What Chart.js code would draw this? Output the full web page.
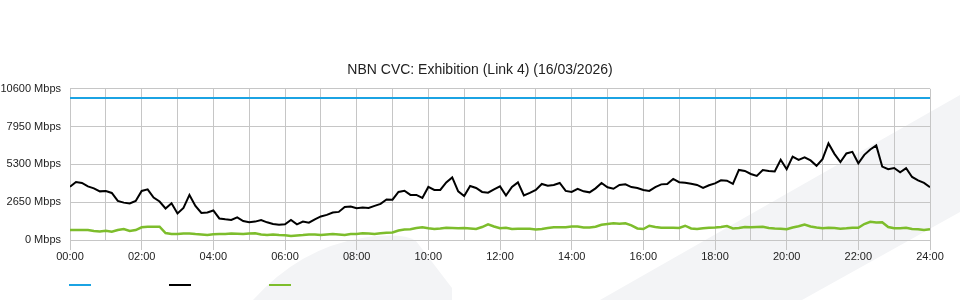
<!DOCTYPE html>
<html>
<head>
<meta charset="utf-8">
<script src="https://cdn.jsdelivr.net/npm/chart.js@4.4.1/dist/chart.umd.min.js"></script>
<style>
  html, body { margin: 0; padding: 0; background: #fff; }
</style>
</head>
<body>
<canvas id="graficoLink" width="960" height="300"></canvas>
<script>
const chartTitle = "NBN CVC: Exhibition (Link 4) (16/03/2026)";

// one sample every 10 minutes, 00:00 -> 24:00
const sampleMinutes = 10;
const hourLabels = ["00:00", "02:00", "04:00", "06:00", "08:00", "10:00", "12:00",
  "14:00", "16:00", "18:00", "20:00", "22:00", "24:00"];
const yTickLabels = ["0 Mbps", "2650 Mbps", "5300 Mbps", "7950 Mbps", "10600 Mbps"];

const capacityMbps = 9960;

const trafficMbps = [
  3740, 4070, 4000, 3760, 3620, 3410, 3440, 3300, 2740, 2620,
  2560, 2740, 3440, 3550, 2980, 2700, 2210, 2580, 1860, 2250,
  3160, 2390, 1900, 1930, 2070, 1510, 1450, 1400, 1590, 1330,
  1250, 1290, 1400, 1240, 1120, 1070, 1100, 1400, 1100, 1290,
  1210, 1450, 1650, 1760, 1930, 1970, 2320, 2350, 2230, 2270,
  2250, 2390, 2530, 2840, 2830, 3370, 3450, 3160, 3160, 2950,
  3720, 3510, 3510, 4040, 4390, 3410, 3090, 3790, 3650, 3370,
  3320, 3550, 3760, 3120, 3720, 4040, 3120, 3300, 3510, 3930,
  3810, 3860, 4000, 3440, 3370, 3590, 3410, 3340, 3620, 4000,
  3700, 3590, 3860, 3900, 3710, 3650, 3510, 3440, 3700, 3900,
  3930, 4280, 4050, 4020, 3950, 3860, 3650, 3840, 3970, 4180,
  4160, 3930, 4910, 4840, 4630, 4490, 4910, 4840, 4810, 5620,
  4960, 5850, 5620, 5790, 5580, 5200, 5670, 6770, 6040, 5460,
  6070, 6180, 5380, 5970, 6350, 6630, 5150, 4960, 5050, 4740,
  5030, 4420, 4180, 4000, 3700
];

const secondaryMbps = [
  700, 700, 700, 700, 630, 600, 650, 580, 700, 770,
  630, 700, 890, 930, 930, 930, 490, 420, 420, 460,
  460, 420, 390, 350, 400, 420, 420, 460, 440, 420,
  460, 470, 390, 350, 390, 350, 330, 280, 320, 350,
  390, 380, 350, 390, 420, 390, 350, 420, 420, 470,
  460, 420, 470, 510, 530, 670, 740, 750, 840, 890,
  820, 770, 810, 860, 840, 820, 840, 810, 770, 910,
  1100, 950, 820, 860, 770, 790, 790, 790, 740, 770,
  840, 890, 890, 890, 950, 950, 880, 880, 930, 1070,
  1120, 1170, 1140, 1170, 1030, 810, 770, 1000, 910, 860,
  860, 860, 840, 1000, 810, 770, 820, 860, 880, 910,
  980, 810, 840, 910, 890, 910, 930, 840, 810, 790,
  750, 880, 960, 1090, 950, 880, 820, 860, 840, 790,
  820, 860, 860, 1120, 1280, 1230, 1240, 910, 820, 820,
  860, 770, 750, 700, 750
];

const seriesColors = ["#1ba3e3", "#000000", "#7dbd2c"];
const gridColor = "#c6c6c6";
const textColor = "#222222";
const fontFamily = "'Liberation Sans', Arial, sans-serif";

function toPoints(values) {
  return values.map((v, i) => ({ x: i * sampleMinutes / 60, y: v }));
}

// light grey logo swoosh behind the plot
const backgroundShapes = {
  id: "backgroundShapes",
  beforeDraw(chart) {
    const ctx = chart.ctx;
    ctx.save();
    ctx.fillStyle = "#f3f4f6";
    ctx.beginPath();
    ctx.moveTo(253, 300);
    ctx.quadraticCurveTo(300, 248, 362, 238);
    ctx.quadraticCurveTo(402, 232, 416, 241);
    ctx.lineTo(452, 288);
    ctx.lineTo(452, 300);
    ctx.closePath();
    ctx.fill();

    ctx.beginPath();
    ctx.moveTo(600, 300);
    ctx.lineTo(960, 95);
    ctx.lineTo(960, 212);
    ctx.lineTo(802, 300);
    ctx.closePath();
    ctx.fill();
    ctx.restore();
  }
};

// legend: coloured dashes only, no text
const dashLegend = {
  id: "dashLegend",
  afterDraw(chart) {
    const ctx = chart.ctx;
    const left = chart.chartArea.left;
    ctx.save();
    chart.data.datasets.forEach((ds, i) => {
      ctx.fillStyle = ds.borderColor;
      ctx.fillRect(left - 1 + i * 100, 284, 22, 2);
    });
    ctx.restore();
  }
};

const ctx = document.getElementById("graficoLink").getContext("2d");

new Chart(ctx, {
  type: "line",
  data: {
    datasets: [
      {
        label: "",
        data: toPoints(trafficMbps).map(p => ({ x: p.x, y: capacityMbps })),
        borderColor: seriesColors[0],
        borderWidth: 2,
        pointRadius: 0
      },
      {
        label: "",
        data: toPoints(trafficMbps),
        borderColor: seriesColors[1],
        borderWidth: 2,
        pointRadius: 0,
        tension: 0
      },
      {
        label: "",
        data: toPoints(secondaryMbps),
        borderColor: seriesColors[2],
        borderWidth: 2.5,
        pointRadius: 0,
        tension: 0
      }
    ]
  },
  options: {
    responsive: false,
    animation: false,
    layout: {
      padding: { top: 50, right: 0, left: 0, bottom: 0 }
    },
    scales: {
      x: {
        type: "linear",
        min: 0,
        max: 24,
        ticks: {
          stepSize: 1,
          autoSkip: false,
          maxRotation: 0,
          padding: 0,
          color: textColor,
          font: { family: fontFamily, size: 11 },
          callback: v => (v % 2 === 0 ? hourLabels[v / 2] : "")
        },
        grid: {
          color: gridColor,
          tickLength: 10,
          tickColor: c => (c.tick && c.tick.value % 2 === 0 ? gridColor : "rgba(0,0,0,0)")
        },
        border: { color: gridColor },
        afterFit: scale => { scale.height = 60; }
      },
      y: {
        min: 0,
        max: 10600,
        ticks: {
          stepSize: 2650,
          padding: 9,
          color: textColor,
          font: { family: fontFamily, size: 11 },
          callback: (v, index) => yTickLabels[index]
        },
        grid: {
          color: gridColor,
          drawTicks: false
        },
        border: { color: gridColor },
        afterFit: scale => { scale.width = 70; }
      },
      // empty right gutter so the title stays centred on the page
      gutter: {
        position: "right",
        min: 0,
        max: 10600,
        ticks: { display: false },
        grid: { display: false, drawTicks: false },
        border: { display: false },
        afterFit: scale => { scale.width = 30; }
      }
    },
    plugins: {
      legend: { display: false },
      tooltip: { enabled: false },
      title: {
        display: true,
        text: chartTitle,
        color: textColor,
        font: { family: fontFamily, size: 14, weight: "normal" },
        padding: { top: 12, bottom: 10 }
      }
    }
  },
  plugins: [backgroundShapes, dashLegend]
});
</script>
</body>
</html>
